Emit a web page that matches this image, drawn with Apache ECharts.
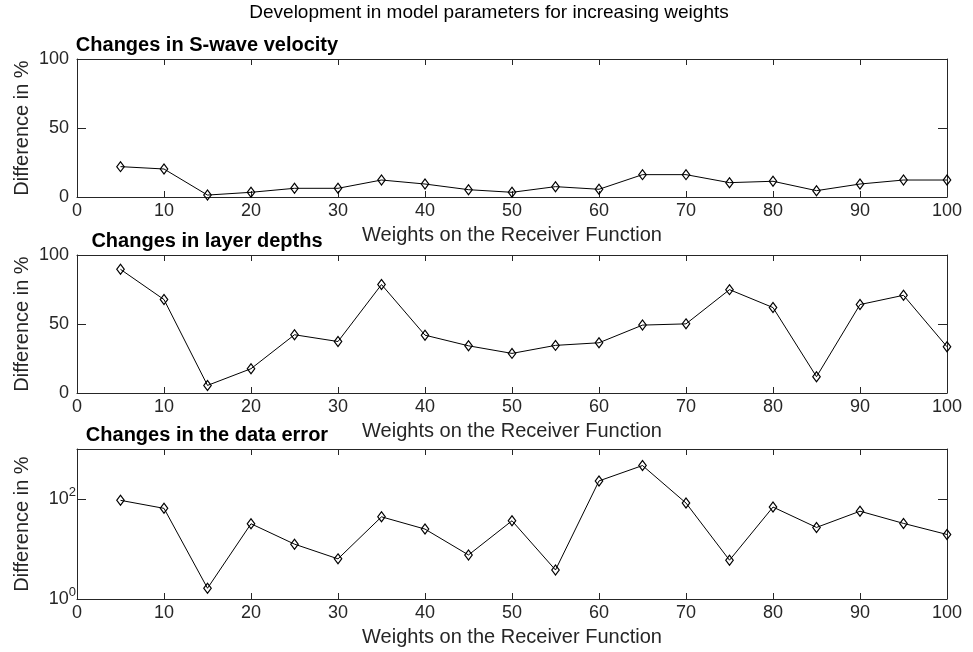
<!DOCTYPE html>
<html>
<head>
<meta charset="utf-8">
<script src="https://cdn.jsdelivr.net/npm/echarts@6/dist/echarts.min.js"></script>
<style>
  html, body { margin: 0; padding: 0; background: #ffffff; }
  #chart { width: 973px; height: 652px; }
</style>
</head>
<body>
<div id="chart"></div>
<script>
// Receiver-function weights (x values)
const weights = [5, 10, 15, 20, 25, 30, 35, 40, 45, 50, 55, 60, 65, 70, 75, 80, 85, 90, 95, 100];

// Percentage change of the model parameters for each weight
const vsChange    = [22, 20.3, 1.4, 3.4, 6.3, 6.3, 12.3, 9.4, 5.3, 3.4, 7.5, 5.6, 16.2, 16.2, 10.4, 11.4, 4.6, 9.4, 12.3, 12.3];
const depthChange = [89.6, 67.7, 5.5, 17.6, 42.2, 37.3, 78.6, 41.9, 34.2, 28.7, 34.5, 36.4, 49.2, 50.1, 74.9, 61.9, 11.8, 64.1, 70.8, 33.5];
const errorChange = [94, 65, 1.64, 32, 12.5, 6.35, 44, 25, 7.6, 36.7, 3.8, 230, 467, 83, 5.97, 69, 27, 57, 32.5, 19.5];

// Panel titles and axis texts
const panelTitles = ['Changes in S-wave velocity', 'Changes in layer depths', 'Changes in the data error'];
const figureTitle = 'Development in model parameters for increasing weights';
const xAxisName = 'Weights on the Receiver Function';
const yAxisName = 'Difference in %';
// Labelled decades on the logarithmic axis
const logTickLabels = [1, 100];

const FONT = '"Liberation Sans", Arial, Helvetica, sans-serif';
const AXIS_COLOR = '#262626';

const panelData = [vsChange, depthChange, errorChange];
const panelIsLog = [false, false, true];
const panelLayout = [
  { top: 59, height: 138 },
  { top: 255, height: 138 },
  { top: 449, height: 150 }
];
const PLOT_LEFT = 77;
const PLOT_WIDTH = 870;

function powerLabel(v) {
  const lg = Math.log10(v);
  const e = Math.round(lg);
  if (Math.abs(lg - e) > 1e-6) return '';
  if (!logTickLabels.some(t => Math.abs(Math.log10(t) - e) < 1e-6)) return '';
  return '{b|10}{s|' + e + '}';
}

const grids = [], xAxes = [], yAxes = [], series = [], graphics = [];

panelLayout.forEach((lay, i) => {
  grids.push({ left: PLOT_LEFT, top: lay.top, width: PLOT_WIDTH, height: lay.height, containLabel: false });

  const xBase = {
    gridIndex: i, type: 'value', min: 0, max: 100, interval: 10,
    axisLine: { show: true, onZero: false, lineStyle: { color: AXIS_COLOR, width: 1 } },
    axisTick: { show: true, inside: true, length: 6, lineStyle: { color: AXIS_COLOR, width: 1 } },
    splitLine: { show: false }
  };
  xAxes.push(Object.assign({}, xBase, {
    position: 'bottom',
    axisLabel: { show: true, margin: 5, fontFamily: FONT, fontSize: 18, color: AXIS_COLOR },
    name: xAxisName, nameLocation: 'middle', nameGap: 28, nameMoveOverlap: false,
    nameTextStyle: { fontFamily: FONT, fontSize: 20, color: AXIS_COLOR }
  }));
  xAxes.push(Object.assign({}, xBase, { position: 'top', axisLabel: { show: false } }));

  const isLog = panelIsLog[i];
  const yBase = isLog
    ? { gridIndex: i, type: 'log', logBase: 100, min: 1, max: 1000 }
    : { gridIndex: i, type: 'value', min: 0, max: 100, interval: 50 };
  Object.assign(yBase, {
    axisLine: { show: true, onZero: false, lineStyle: { color: AXIS_COLOR, width: 1 } },
    axisTick: { show: true, inside: true, length: 9, lineStyle: { color: AXIS_COLOR, width: 1 } },
    splitLine: { show: false }, minorTick: { show: false }
  });
  const yLabel = isLog
    ? {
        show: true, margin: 1, formatter: powerLabel,
        rich: {
          b: { fontFamily: FONT, fontSize: 18, lineHeight: 26, color: AXIS_COLOR, verticalAlign: 'middle' },
          s: { fontFamily: FONT, fontSize: 13, lineHeight: 13, color: AXIS_COLOR, verticalAlign: 'top' }
        }
      }
    : { show: true, margin: 8, fontFamily: FONT, fontSize: 18, color: AXIS_COLOR };
  yAxes.push(Object.assign({}, yBase, {
    position: 'left', axisLabel: yLabel,
    name: yAxisName, nameLocation: 'middle', nameGap: 45, nameMoveOverlap: false,
    nameTextStyle: { fontFamily: FONT, fontSize: 20, color: AXIS_COLOR }
  }));
  yAxes.push(Object.assign({}, yBase, { position: 'right', axisLabel: { show: false } }));

  series.push({
    type: 'line',
    xAxisIndex: 2 * i, yAxisIndex: 2 * i,
    data: weights.map((w, k) => [w, panelData[i][k]]),
    symbol: 'diamond', symbolSize: [7.5, 10], showSymbol: true,
    lineStyle: { color: '#000000', width: 1 },
    itemStyle: { color: 'rgba(0,0,0,0)', borderColor: '#000000', borderWidth: 1.2 },
    emphasis: { disabled: true },
    z: 3
  });

  graphics.push({
    type: 'text', x: 207, y: lay.top - 14,
    style: {
      text: panelTitles[i], fill: '#000000',
      font: 'bold 20px ' + FONT, textAlign: 'center', textVerticalAlign: 'middle'
    }
  });
});

graphics.push({
  type: 'text', x: 489, y: 13,
  style: {
    text: figureTitle, fill: '#000000',
    font: '19px ' + FONT, textAlign: 'center', textVerticalAlign: 'middle'
  }
});

const chart = echarts.init(document.getElementById('chart'), null, { renderer: 'canvas' });
chart.setOption({
  animation: false,
  backgroundColor: '#ffffff',
  grid: grids,
  xAxis: xAxes,
  yAxis: yAxes,
  series: series,
  graphic: graphics
});
</script>
</body>
</html>
